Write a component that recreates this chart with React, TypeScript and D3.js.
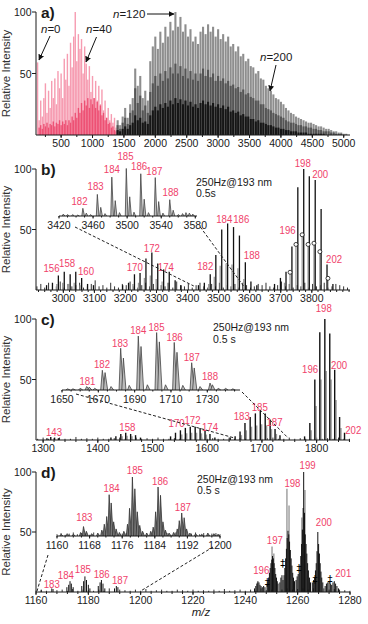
import React from 'react';
import * as d3 from 'd3';

const FONT = '"Liberation Sans", Arial, Helvetica, sans-serif';
const RED = '#f0426a';
const INK = '#1a1a1a';
const L = 36, R = 350;

// ---- panel a: full spectra, intensities on a regular m/z grid ----
const aPinkStart = 125, aPinkStep = 25;
const aPinkLight = [59, 12, 28, 15, 30, 42, 18, 36, 22, 44, 30, 46, 25, 52, 38, 50, 30, 62, 45, 66, 40, 75, 55, 80, 100, 60, 82, 70, 78, 50, 72, 58, 45, 56, 35, 48, 30, 44, 28, 40, 25, 37, 20, 28, 14, 22, 12, 17, 10, 14, 6, 3];
const aPinkDarkStart = 150;
const aPinkDark = [6, 8, 5, 9, 7, 10, 6, 9, 8, 11, 7, 10, 9, 12, 8, 11, 9, 12, 8, 12, 10, 15, 12, 18, 14, 22, 18, 26, 20, 28, 24, 30, 22, 29, 25, 30, 22, 27, 20, 24, 16, 18, 12, 14, 9, 10, 6, 7, 4, 3];
const aGrayStart = 1400, aGrayStep = 40;
const aGrayLight = [12, 8, 15, 22, 14, 25, 30, 54, 40, 48, 30, 36, 28, 60, 72, 80, 70, 84, 75, 88, 80, 92, 85, 100, 88, 96, 84, 90, 80, 86, 76, 80, 74, 84, 88, 82, 90, 84, 88, 80, 86, 78, 82, 76, 80, 72, 74, 68, 72, 64, 66, 60, 62, 56, 55, 50, 52, 46, 45, 40, 38, 36, 33, 30, 29, 27, 25, 22, 20, 18, 17, 15, 14, 13, 12, 11, 10, 10, 9, 8, 7, 7, 6, 5, 5, 4, 3, 3, 2, 2, 1, 1];
const aGrayMid = [8, 5, 10, 14, 9, 18, 20, 38, 26, 32, 20, 24, 18, 35, 42, 48, 40, 50, 44, 52, 46, 55, 50, 58, 50, 56, 48, 54, 46, 52, 45, 50, 44, 50, 54, 48, 53, 47, 50, 44, 48, 44, 46, 42, 44, 40, 41, 38, 39, 35, 37, 33, 34, 31, 30, 28, 28, 25, 25, 22, 21, 20, 18, 17, 16, 15, 14, 12, 11, 10, 10, 9, 8, 8, 7, 7, 6, 6, 5, 5, 4, 4, 3, 3, 3, 2, 2, 1, 1, 1, 0, 0];
const aGrayDark = [4, 3, 5, 7, 5, 8, 10, 16, 12, 14, 10, 11, 9, 16, 20, 23, 20, 25, 22, 26, 23, 28, 25, 30, 26, 29, 25, 28, 24, 27, 23, 25, 22, 26, 28, 25, 27, 24, 26, 23, 25, 22, 24, 21, 23, 19, 20, 18, 19, 16, 17, 15, 15, 13, 13, 11, 12, 10, 10, 9, 8, 8, 7, 6, 6, 5, 5, 4, 4, 3, 3, 3, 2, 2, 2, 2, 1, 1, 1, 1, 1, 1, 1, 0, 0, 0, 0, 0, 0, 0, 0, 0];

// ---- panel b ----
const bPeakMz = [2946, 2965, 2984, 3003, 3022, 3040, 3059, 3078, 3097, 3191, 3210, 3229, 3247, 3266, 3285, 3304, 3323, 3341, 3360, 3379, 3435, 3454, 3473, 3491, 3510, 3529, 3548, 3567, 3586, 3604, 3623, 3680, 3699, 3717, 3736, 3755, 3774, 3792, 3811, 3830, 3849, 3868];
const bPeakInt = [4, 6, 12, 15, 13, 15, 10, 5, 4, 4, 6, 13, 14, 26, 31, 22, 17, 15, 8, 4, 4, 6, 13, 29, 50, 55, 52, 45, 23, 7, 4, 5, 10, 15, 36, 85, 100, 94, 91, 67, 21, 5];
const bShoulderMz = [2979, 2998, 3017, 3035, 3054, 3224, 3242, 3261, 3280, 3299, 3318, 3336, 3468, 3486, 3505, 3524, 3543, 3562, 3581, 3712, 3730, 3749, 3769, 3788, 3807, 3826, 3852];
const bShoulderInt = [5, 6, 5, 6, 4, 5, 6, 10, 12, 9, 7, 6, 5, 11, 20, 22, 21, 18, 9, 6, 13, 36, 44, 36, 37, 30, 8];
const bCircleMz = [3730, 3749, 3769, 3788, 3807, 3826, 3852];
const bCircleInt = [13, 36, 44, 36, 37, 30, 8];
const bNoiseStart = 2915, bNoiseStep = 12.5;
const bNoise = [3, 5, 2, 6, 4, 3, 7, 2, 5, 3, 4, 6, 2, 3, 5, 8, 3, 4, 2, 6, 3, 2, 5, 4, 7, 3, 2, 4, 6, 3, 5, 2, 4, 3, 6, 2, 7, 4, 3, 5, 2, 4, 6, 3, 2, 5, 3, 6, 2, 4, 3, 5, 2, 6, 4, 2, 3, 5, 4, 6, 3, 2, 4, 7, 3, 5, 2, 4, 3, 6, 2, 5, 3, 4, 6, 2, 3, 5, 4, 3, 2];
const bLabelN = [156, 158, 160, 170, 172, 174, 182, 184, 186, 188, 196, 198, 200, 202];
const bLabelMz = [2962, 3012, 3073, 3230, 3285, 3330, 3457, 3518, 3573, 3607, 3722, 3771, 3827, 3872];
const bLabelInt = [18, 22, 16, 19, 35, 19, 20, 59, 59, 29, 50, 105, 96, 26];
const bInsetMz = [3425, 3430, 3436, 3442, 3448, 3452, 3457, 3465, 3469, 3474, 3482, 3486, 3491, 3499, 3503, 3508, 3516, 3520, 3525, 3533, 3537, 3542, 3550, 3554, 3560, 3565, 3569, 3573, 3577];
const bInsetInt = [4, 3, 3, 2, 16, 6, 3, 45, 18, 5, 81, 32, 7, 99, 40, 8, 88, 35, 7, 80, 30, 6, 34, 12, 3, 5, 7, 6, 4];
const bInsetLabelN = [182, 183, 184, 185, 186, 187, 188];
const bInsetLabelMz = [3444, 3463, 3482, 3498, 3514, 3532, 3551];
const bInsetLabelInt = [32, 62, 97, 125, 104, 93, 49];

// ---- panel c ----
const cPeakMz = [1307, 1314, 1321, 1328, 1424, 1433, 1442, 1451, 1460, 1469, 1478, 1533, 1542, 1551, 1560, 1569, 1578, 1587, 1596, 1605, 1614, 1642, 1651, 1660, 1669, 1678.5, 1688, 1697, 1706, 1715, 1724, 1733, 1778, 1787.6, 1796.7, 1805.8, 1815, 1824, 1833, 1842, 1851];
const cPeakInt = [1.5, 2.5, 2, 1.5, 2, 3, 5, 6, 5, 4, 2, 3, 6, 8, 10, 11, 11, 10, 8, 5, 2, 2, 3, 7, 14, 19, 22, 24, 22, 17, 9, 4, 3, 14, 50, 89, 100, 88, 58, 19, 6];
const cShoulderMz = [1444.5, 1453.5, 1462.5, 1553.5, 1562.5, 1571.5, 1580.5, 1589.5, 1598.5, 1662.5, 1671.5, 1681, 1690.5, 1699.5, 1708.5, 1717.5, 1726.5, 1790, 1799, 1808, 1817.5, 1826.5, 1835.5, 1844.5];
const cShoulderInt = [3, 3.5, 3, 4.5, 5.5, 6, 6, 5.5, 4.5, 4, 8, 11, 12, 13, 12, 9, 5, 8, 28, 50, 57, 50, 33, 10];
const cNoiseStart = 1290, cNoiseStep = 10;
const cNoise = [1, 2, 1, 1.5, 2, 1, 1, 2.5, 1, 1.5, 1, 2, 1, 1, 1.5, 2, 1, 1, 2, 1, 1.5, 1, 2, 1, 1, 1.5, 1, 2, 1, 1, 2, 1, 1.5, 1, 1, 2, 1, 1.5, 1, 2, 1, 1, 1.5, 2, 1, 1, 2, 1, 1.5, 1, 1, 2, 1, 1.5, 1, 2, 1, 1];
const cLabelN = [143, 158, 170, 172, 174, 183, 185, 187, 196, 198, 200, 202];
const cLabelMz = [1320, 1454, 1544, 1573, 1605, 1663, 1696, 1723, 1788, 1813, 1841, 1867];
const cLabelInt = [7, 11, 14, 16.5, 10.5, 20, 27.5, 15, 59, 109, 62, 8];
const cInsetMz = [1653, 1656, 1660, 1663.6, 1665, 1668, 1672.2, 1673.7, 1677, 1682.3, 1683.8, 1687, 1692, 1693.5, 1697, 1702.1, 1703.6, 1707, 1711.8, 1713.3, 1716.5, 1721.4, 1722.8, 1726, 1731.5, 1732.8, 1736, 1740, 1744];
const cInsetInt = [2, 2, 3, 6, 5, 3, 34, 30, 6, 72, 55, 8, 93, 75, 9, 99, 83, 9, 82, 65, 8, 47, 38, 6, 12, 9, 3, 3, 2];
const cInsetLabelN = [181, 182, 183, 184, 185, 186, 187, 188];
const cInsetLabelMz = [1664, 1672, 1682, 1692, 1702, 1712, 1721.4, 1731.5];
const cInsetLabelInt = [16, 44, 81, 103, 109, 91, 57, 24];

// ---- panel d ----
const dPeakMz = [1162, 1166.5, 1171.8, 1172.5, 1173, 1173.5, 1174.2, 1177.5, 1178.2, 1178.7, 1179.3, 1180, 1180.6, 1183.8, 1184.5, 1185, 1185.6, 1186.3, 1190, 1190.7, 1191.3,
  1243.5, 1244, 1244.4, 1244.8, 1245.2, 1245.6, 1246, 1246.5, 1247, 1247.5,
  1248.3, 1248.6, 1248.9, 1249.2, 1249.5, 1249.8, 1250.1, 1250.4, 1250.7, 1251, 1251.3, 1251.6, 1251.9, 1252.2, 1252.5,
  1253.2, 1253.6, 1254, 1254.4,
  1254.8, 1255.1, 1255.4, 1255.7, 1256, 1256.3, 1256.6, 1256.9, 1257.2, 1257.5, 1257.8, 1258.1, 1258.4, 1258.8,
  1259.4, 1259.8, 1260.2,
  1260.6, 1260.9, 1261.2, 1261.5, 1261.8, 1262.1, 1262.3, 1262.6, 1262.9, 1263.2, 1263.5, 1263.8, 1264.1, 1264.5, 1264.9,
  1265.6, 1266.1,
  1266.5, 1266.8, 1267.1, 1267.4, 1267.7, 1268, 1268.3, 1268.6, 1268.9, 1269.2, 1269.6,
  1270.5, 1271, 1271.5, 1272, 1272.5, 1273, 1273.5, 1274, 1274.5, 1275, 1275.6];
const dPeakInt = [1.5, 2.5, 4, 6, 9, 7, 4, 5, 9, 13, 10, 6, 3, 5, 8, 10, 7, 3, 3, 5, 4,
  3, 5, 7, 9, 8, 6, 5, 4, 5, 4,
  6, 9, 12, 16, 20, 24, 27, 30, 28, 24, 20, 15, 12, 9, 7,
  8, 12, 14, 10,
  14, 20, 28, 36, 45, 51, 48, 42, 35, 28, 22, 16, 12, 9,
  10, 13, 15,
  16, 22, 30, 40, 52, 70, 100, 66, 48, 40, 32, 24, 18, 12, 8,
  8, 10,
  12, 18, 24, 34, 50, 40, 32, 24, 17, 12, 8,
  5, 7, 8, 9, 7, 6, 8, 9, 7, 5, 3];
const dGrayMz = [1244.6, 1250.2, 1250.9, 1255.9, 1256.7, 1261.6, 1262.8, 1268.1];
const dGrayInt = [8, 38, 32, 86, 72, 62, 85, 32];
const dNoiseStart = 1160, dNoiseStep = 2;
const dNoise = [1, 2, 1, 3, 1.5, 2, 1, 2.5, 1, 2, 1.5, 1, 2, 1, 3, 1, 2, 1.5, 1, 2, 1, 2.5, 1, 1.5, 2, 1, 1, 2, 1.5, 1, 2, 1, 1.5, 1, 2, 1, 2.5, 1, 1.5, 2, 1, 2, 1, 3, 1.5, 2, 1, 2, 3, 2, 2.5, 3, 2, 3, 2, 3, 2, 2.5, 2, 1.5, 1];
const dLabelN = [183, 184, 185, 186, 187, 196, 197, 198, 199, 200, 201];
const dLabelMz = [1166, 1171.4, 1177.9, 1185.1, 1192.1, 1246.1, 1251.3, 1258, 1263.8, 1270, 1277.4];
const dLabelInt = [7, 14, 19, 15, 10, 18.5, 43, 91, 106, 58, 16];
const dDaggerMz = [1248.4, 1254.3, 1260.5, 1266.6, 1272.4];
const dDaggerInt = [8, 24, 20, 11, 11];
const dInsetMz = [1161, 1162.5, 1164, 1165.8, 1166.5, 1167.2, 1168.5, 1170, 1171, 1171.6, 1172.2, 1172.8, 1173.3, 1173.9, 1174.5, 1175.3, 1176.4, 1177.3, 1177.8, 1178.5, 1179.1, 1179.7, 1180.3, 1181, 1182, 1183, 1183.6, 1184.2, 1184.8, 1185.4, 1186, 1186.6, 1187.5, 1188.6, 1189.5, 1190, 1190.6, 1191.2, 1191.8, 1192.6, 1194, 1195.5, 1197, 1198.5, 1199.5];
const dInsetInt = [3, 4, 3, 6, 16, 8, 4, 5, 10, 20, 33, 70, 56, 24, 12, 6, 8, 20, 47, 100, 80, 41, 18, 8, 5, 8, 15, 41, 83, 69, 24, 10, 5, 6, 12, 26, 39, 31, 12, 5, 4, 3, 5, 4, 3];
const dInsetNoise = [3, 5, 2, 4, 6, 3, 5, 4, 2, 6, 3, 5, 4, 3, 6, 2, 4, 5, 3, 6, 4, 2, 5, 3, 6, 4, 3, 5, 2, 6, 4, 5, 3, 4, 6, 3, 5, 2, 4, 5, 3];
const dLabelInsetN = [183, 184, 185, 186, 187];
const dInsetLabelMz = [1166.7, 1173.4, 1179.1, 1185.3, 1190.9];
const dInsetLabelInt = [33, 81, 112, 94, 50];

// scales
const xa = d3.scaleLinear().domain([100, 5100]).range([L, R]);
const ya = d3.scaleLinear().domain([0, 100]).range([135, 12]);
const xb = d3.scaleLinear().domain([2912, 3923]).range([L, R]);
const yb = d3.scaleLinear().domain([0, 100]).range([290, 169]);
const xc = d3.scaleLinear().domain([1287, 1861]).range([L, R]);
const yc = d3.scaleLinear().domain([0, 100]).range([440, 319]);
const xd = d3.scaleLinear().domain([1160, 1280]).range([L, R]);
const yd = d3.scaleLinear().domain([0, 100]).range([592, 472]);
const xbi = d3.scaleLinear().domain([3420, 3582]).range([59, 197]);
const ybi = d3.scaleLinear().domain([0, 100]).range([216, 168]);
const xci = d3.scaleLinear().domain([1650, 1748]).range([62, 240]);
const yci = d3.scaleLinear().domain([0, 100]).range([390, 332]);
const xdi = d3.scaleLinear().domain([1160, 1200]).range([57, 220]);
const ydi = d3.scaleLinear().domain([0, 100]).range([536, 477]);

const grid = (start, step, vals) => vals.map((v, i) => start + i * step);
const range = (a, b, s) => d3.range(a, b + s / 2, s);

function Bars({ start, step, vals, x, y, color, w, op = 1 }) {
  return (
    <g fill={color} opacity={op}>
      {vals.map((v, i) => {
        const m = start + i * step;
        return <rect key={i} x={x(m) - w / 2} y={y(v)} width={w} height={y(0) - y(v)} />;
      })}
    </g>
  );
}

function Sticks({ mz, val, x, y, color, w }) {
  return (
    <g stroke={color} strokeWidth={w}>
      {mz.map((m, i) => <line key={i} x1={x(m)} x2={x(m)} y1={y(0)} y2={y(val[i])} />)}
    </g>
  );
}

function Profile({ mz, val, x, y, hw, fill, stroke }) {
  return (
    <g fill={fill} stroke={stroke} strokeWidth={0.8} strokeLinejoin="round">
      {mz.map((m, i) => (
        <path key={i} d={`M${x(m - hw)},${y(0)}L${x(m)},${y(val[i])}L${x(m + hw * 1.6)},${y(0)}`} />
      ))}
    </g>
  );
}

// red cluster-size labels, slightly narrow like the original artwork
function Labels({ n, mz, val, x, y }) {
  return (
    <g fill={RED} fontSize={11.5} textAnchor="middle" fontFamily={FONT}>
      {n.map((t, i) => (
        <text key={i} transform={`translate(${x(mz[i])},${y(val[i]) + 4}) scale(0.84,1)`}>{t}</text>
      ))}
    </g>
  );
}

function MainAxes({ x, y, major, minor, title }) {
  const y0 = y(0);
  return (
    <g fontFamily={FONT} fill={INK}>
      <line x1={L} x2={R} y1={y0} y2={y0} stroke={INK} />
      <line x1={L} x2={L} y1={y0} y2={y(100)} stroke={INK} />
      {[50, 100].map(t => (
        <g key={t}>
          <line x1={L - 4} x2={L} y1={y(t)} y2={y(t)} stroke={INK} />
          <text x={L - 4.5} y={y(t) + 4} textAnchor="end" fontSize={10.5}>{t}</text>
        </g>
      ))}
      {minor.map(t => <line key={'m' + t} x1={x(t)} x2={x(t)} y1={y0} y2={y0 + 2} stroke={INK} />)}
      {major.map(t => (
        <g key={t}>
          <line x1={x(t)} x2={x(t)} y1={y0} y2={y0 + 3} stroke={INK} />
          <text x={x(t)} y={y0 + 11.5} textAnchor="middle" fontSize={10.5}>{t}</text>
        </g>
      ))}
      <text transform={`translate(10,${(y0 + y(100)) / 2}) rotate(-90)`} textAnchor="middle" fontSize={11.5} fill="#333">Relative Intensity</text>
      <text x={41} y={y(100) + 6} fontSize={15.5} fontWeight="bold">{title}</text>
    </g>
  );
}

function InsetAxis({ x, y, major, minor }) {
  const y0 = y(0);
  const [a, b] = x.range();
  return (
    <g fontFamily={FONT} fill={INK} stroke={INK}>
      <line x1={a} x2={b} y1={y0} y2={y0} />
      {minor.map(t => <line key={'m' + t} x1={x(t)} x2={x(t)} y1={y0} y2={y0 + 1.5} />)}
      {major.map(t => (
        <g key={t}>
          <line x1={x(t)} x2={x(t)} y1={y0} y2={y0 + 2.5} />
          <text x={x(t)} y={y0 + 13} textAnchor="middle" fontSize={10.5} stroke="none">{t}</text>
        </g>
      ))}
    </g>
  );
}

function Note({ x, y1, y2, second }) {
  return (
    <g fontFamily={FONT} fontSize={10.5} fill={INK}>
      <text x={x} y={y1}>250Hz@193 nm</text>
      <text x={x} y={y2}>{second}</text>
    </g>
  );
}

export default function App() {
  return (
    <svg width={368} height={624} style={{ position: 'absolute', left: 0, top: 0, background: '#fff' }}>
      <defs>
        <marker id="ah" viewBox="0 0 10 10" refX="9" refY="5" markerWidth="6" markerHeight="6" orient="auto">
          <path d="M0,0L10,5L0,10z" fill="#111" />
        </marker>
      </defs>

      {/* ---------- a ---------- */}
      <Bars start={aPinkStart} step={aPinkStep} vals={aPinkLight} x={xa} y={ya} color="#f58ba4" w={1.4} op={0.85} />
      <Bars start={aPinkDarkStart} step={aPinkStep} vals={aPinkDark} x={xa} y={ya} color="#ec3f66" w={1.4} op={0.8} />
      <Bars start={aGrayStart} step={aGrayStep} vals={aGrayLight} x={xa} y={ya} color="#8e8e8e" w={2.1} />
      <Bars start={aGrayStart} step={aGrayStep} vals={aGrayMid} x={xa} y={ya} color="#555" w={2.1} />
      <Bars start={aGrayStart} step={aGrayStep} vals={aGrayDark} x={xa} y={ya} color="#161616" w={2.1} />
      <MainAxes x={xa} y={ya} major={range(500, 5000, 500)} minor={range(250, 5000, 250)} title="a)" />
      <g fontFamily={FONT} fontSize={11.5} fill={INK} stroke="#111">
        <text x={41} y={33} stroke="none"><tspan fontStyle="italic">n</tspan>=0</text>
        <line x1={50} y1={36} x2={39} y2={60} markerEnd="url(#ah)" />
        <text x={86} y={33} stroke="none"><tspan fontStyle="italic">n</tspan>=40</text>
        <line x1={96.5} y1={37} x2={86} y2={62} markerEnd="url(#ah)" />
        <text x={113} y={18} stroke="none"><tspan fontStyle="italic">n</tspan>=120</text>
        <line x1={147} y1={14} x2={174} y2={14} markerEnd="url(#ah)" />
        <text x={260} y={61} stroke="none"><tspan fontStyle="italic">n</tspan>=200</text>
        <line x1={276} y1={65} x2={270} y2={91} markerEnd="url(#ah)" />
      </g>

      {/* ---------- b ---------- */}
      <Sticks mz={grid(bNoiseStart, bNoiseStep, bNoise)} val={bNoise} x={xb} y={yb} color="#333" w={1} />
      <Sticks mz={bShoulderMz} val={bShoulderInt} x={xb} y={yb} color="#9a9a9a" w={1.3} />
      <Sticks mz={bPeakMz} val={bPeakInt} x={xb} y={yb} color="#111" w={1.3} />
      <g fill="#fff" stroke="#111" strokeWidth={0.8}>
        {bCircleMz.map((m, i) => <circle key={i} cx={xb(m)} cy={yb(bCircleInt[i]) - 2} r={2} />)}
      </g>
      <MainAxes x={xb} y={yb} major={range(3000, 3800, 100)} minor={range(2920, 3920, 20)} title="b)" />
      <Labels n={bLabelN} mz={bLabelMz} val={bLabelInt} x={xb} y={yb} />
      <Profile mz={bInsetMz} val={bInsetInt} x={xbi} y={ybi} hw={1.2} fill="#bbb" stroke="#444" />
      <InsetAxis x={xbi} y={ybi} major={range(3420, 3580, 40)} minor={range(3420, 3580, 10)} />
      <Labels n={bInsetLabelN} mz={bInsetLabelMz} val={bInsetLabelInt} x={xbi} y={ybi} />
      <Note x={196} y1={186} y2={197} second="0.5s" />
      <g stroke="#222" strokeDasharray="3,2">
        <line x1={xbi(3420) + 16} y1={ybi(0) + 11} x2={xb(3420)} y2={yb(0) - 4} />
        <line x1={xbi(3580) + 5} y1={ybi(0) + 11} x2={xb(3580)} y2={yb(0) - 4} />
      </g>

      {/* ---------- c ---------- */}
      <Sticks mz={grid(cNoiseStart, cNoiseStep, cNoise)} val={cNoise} x={xc} y={yc} color="#333" w={1} />
      <Sticks mz={cShoulderMz} val={cShoulderInt} x={xc} y={yc} color="#9a9a9a" w={1.4} />
      <Sticks mz={cPeakMz} val={cPeakInt} x={xc} y={yc} color="#111" w={1.4} />
      <MainAxes x={xc} y={yc} major={range(1300, 1800, 100)} minor={range(1300, 1860, 20)} title="c)" />
      <Labels n={cLabelN} mz={cLabelMz} val={cLabelInt} x={xc} y={yc} />
      <Profile mz={cInsetMz} val={cInsetInt} x={xci} y={yci} hw={0.9} fill="#bbb" stroke="#444" />
      <InsetAxis x={xci} y={yci} major={range(1650, 1730, 20)} minor={range(1650, 1745, 5)} />
      <Labels n={cInsetLabelN} mz={cInsetLabelMz} val={cInsetLabelInt} x={xci} y={yci} />
      <Note x={213} y1={331} y2={343} second="0.5 s" />
      <g stroke="#222" strokeDasharray="3,2">
        <line x1={xci(1650) + 14} y1={yci(0) + 4} x2={xc(1650)} y2={yc(0) - 2} />
        <line x1={xci(1748) + 2} y1={yci(0) + 2} x2={xc(1748)} y2={yc(0) - 2} />
      </g>

      {/* ---------- d ---------- */}
      <Sticks mz={grid(dNoiseStart, dNoiseStep, dNoise)} val={dNoise} x={xd} y={yd} color="#333" w={1} />
      <Sticks mz={dGrayMz} val={dGrayInt} x={xd} y={yd} color="#8a8a8a" w={1.2} />
      <Sticks mz={dPeakMz} val={dPeakInt} x={xd} y={yd} color="#111" w={1} />
      <MainAxes x={xd} y={yd} major={range(1160, 1280, 20)} minor={range(1160, 1280, 4)} title="d)" />
      <Labels n={dLabelN} mz={dLabelMz} val={dLabelInt} x={xd} y={yd} />
      <g fontFamily='"DejaVu Sans", sans-serif' fontSize={10} textAnchor="middle" fill="#000">
        {dDaggerMz.map((m, i) => <text key={i} x={xd(m)} y={yd(dDaggerInt[i]) + 4}>‡</text>)}
      </g>
      <Sticks mz={grid(1160, 1, dInsetNoise)} val={dInsetNoise} x={xdi} y={ydi} color="#444" w={1} />
      <Profile mz={dInsetMz} val={dInsetInt} x={xdi} y={ydi} hw={0.3} fill="#777" stroke="#333" />
      <InsetAxis x={xdi} y={ydi} major={range(1160, 1200, 8)} minor={range(1160, 1200, 2)} />
      <Labels n={dLabelInsetN} mz={dInsetLabelMz} val={dInsetLabelInt} x={xdi} y={ydi} />
      <Note x={197} y1={483} y2={494} second="0.5 s" />
      <g stroke="#222" strokeDasharray="3,2">
        <line x1={xdi(1160) - 9} y1={ydi(0) + 19} x2={xd(1160) + 1} y2={yd(0) - 1} />
        <line x1={xdi(1200) - 7} y1={ydi(0) + 11} x2={xd(1200)} y2={yd(0) - 1} />
      </g>
      <text x={201} y={616} fontFamily={FONT} fontSize={11.5} fontStyle="italic" textAnchor="middle" fill={INK}>m/z</text>
    </svg>
  );
}
